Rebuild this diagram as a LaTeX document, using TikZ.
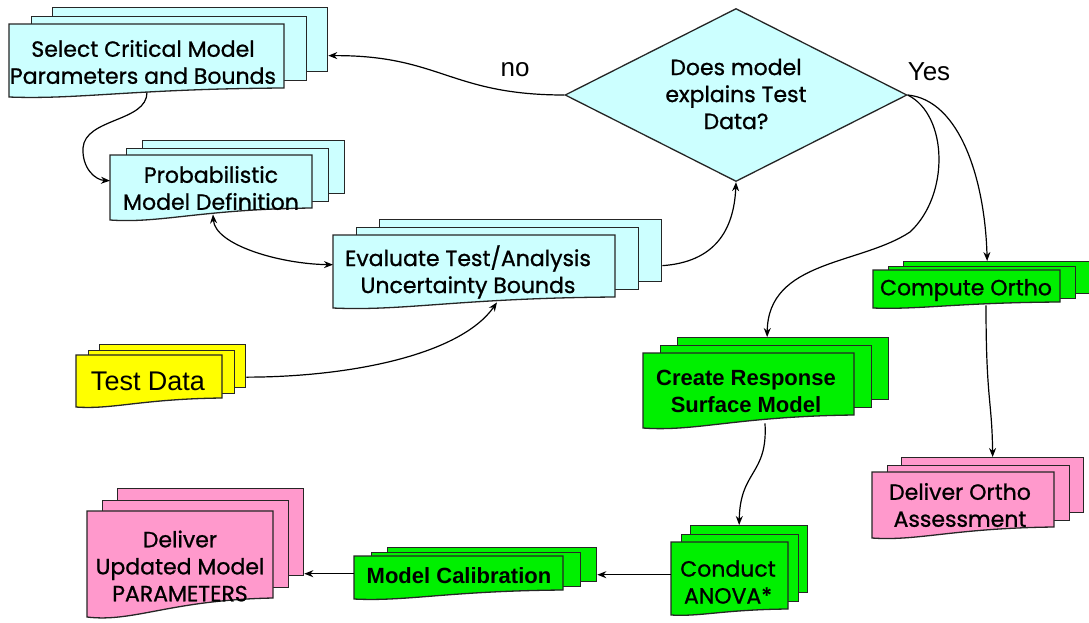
\documentclass[tikz,border=0pt]{standalone}
\usepackage{fontspec}
\setmainfont{Liberation Sans}
\newfontfamily\cfont{Poppins}[FakeBold=0.9]
\usetikzlibrary{shapes.geometric,arrows.meta,calc}
\definecolor{cblue}{HTML}{CCFFFF}
\definecolor{cgreen}{HTML}{00F000}
\definecolor{cyellow}{HTML}{FFFF00}
\definecolor{cpink}{HTML}{FF99CC}
\tikzset{
  sheet/.style={draw=black!85, line width=1.3pt, inner sep=0pt, anchor=north west},
  sheetline/.style={draw=black!85, line width=1.3pt},
  conn/.style={line width=1.2pt, -{Stealth[length=9pt,width=7pt]}},
  ctext/.style={font=\cfont\fontsize{22}{27}\selectfont, align=center, inner sep=0pt},
  atext/.style={font=\fontsize{27}{30}\selectfont, align=center, inner sep=0pt},
  abold/.style={font=\bfseries\fontsize{22}{27}\selectfont, align=center, inner sep=0pt},
  lbl/.style={font=\fontsize{26}{30}\selectfont, inner sep=0pt},
}
% name, colour, L, T, R, B(left bottom), dx, dy, wave amplitude
\newcommand\mdoc[9]{%
  \pgfmathsetmacro\mdW{#5-#3}%
  \pgfmathsetmacro\mdH{#6-#4-#9}%
  \pgfmathsetmacro\mdHf{#6-#4}%
  \node[sheet,fill=#2,minimum width=\mdW pt,minimum height=\mdH pt] (#1-b) at ({#3+2*#7},{#4-2*#8}) {};
  \node[sheet,fill=#2,minimum width=\mdW pt,minimum height=\mdH pt] (#1-m) at ({#3+#7},{#4-#8}) {};
  \draw[sheetline,fill=#2] ({#3},{#4}) -- ({#5},{#4}) -- ({#5},{#6-#9})
     .. controls ({#3+0.45*\mdW},{#6-0.9*#9}) and ({#3+0.25*\mdW},{#6+0.3*#9}) .. ({#3},{#6}) -- cycle;
  \node[inner sep=0pt,minimum width=\mdW pt,minimum height=\mdHf pt,anchor=north west] (#1) at ({#3},{#4}) {};
}
\begin{document}
\begin{tikzpicture}[x=1pt,y=-1pt]
\useasboundingbox[fill=white] (0,0) rectangle (1089,622);

\mdoc{sel}{cblue}{9}{24}{284}{97}{21.5}{8.5}{9}
\mdoc{prob}{cblue}{110}{155}{312}{220}{16}{7.5}{12}
\mdoc{eval}{cblue}{333}{235}{615}{308}{23}{8}{11}
\mdoc{comp}{cgreen}{873}{270}{1060}{308}{15}{4.5}{6}
\mdoc{create}{cgreen}{643}{353}{854}{428}{17}{8}{13}
\mdoc{test}{cyellow}{76}{355}{222}{407}{11.5}{5.5}{9}
\mdoc{delup}{cpink}{87}{511}{273}{617}{15}{11.5}{19}
\mdoc{calib}{cgreen}{354}{556}{563}{599}{16.5}{4.5}{9}
\mdoc{anova}{cgreen}{671}{542}{788}{615}{9.5}{8.5}{6}
\mdoc{delor}{cpink}{872}{472}{1054}{538}{14.5}{7.5}{11}

\node[diamond, draw=black!85, line width=1.3pt, fill=cblue, inner sep=0pt,
      minimum width=342pt, minimum height=173pt] (dec) at (736,95) {};

\node[ctext] (t-sel) at (143,62) {Select Critical Model\\Parameters and Bounds};
\node[ctext] (t-prob) at (211,188) {Probabilistic\\Model Definition};
\node[ctext] (t-eval) at (468,272) {Evaluate Test/Analysis\\Uncertainty Bounds};
\node[ctext] (t-dec) at (736,94) {Does model\\explains Test\\Data?};
\node[ctext] (t-comp) at (966,290) {Compute Ortho};
\node[abold] (t-create) at (746,391) {Create Response\\Surface Model};
\node[atext] (t-test) at (148,381) {Test Data};
\node[ctext] (t-delup) at (180,566) {Deliver\\Updated Model\\PARAMETERS};
\node[abold] (t-calib) at (459,576) {Model Calibration};
\node[ctext] (t-anova) at (728,582) {Conduct\\ANOVA*};
\node[ctext] (t-delor) at (960,505) {Deliver Ortho\\Assessment};
\node[lbl] (l-no) at (515,70) {no};
\node[lbl] (l-yes) at (929,72) {Yes};

% connectors
\draw[conn] (dec.west) .. controls (450,95) and (440,55) .. ([yshift=-16pt]sel-b.east);
\draw[conn] ([xshift=138pt,yshift=5pt]sel.south west) .. controls (147,122) and (85,118) .. (83,148)
   .. controls (82,168) and (95,180) .. ([yshift=7pt]prob.west);
\draw[line width=1.2pt, {Stealth[length=9pt,width=7pt]}-{Stealth[length=9pt,width=7pt]}]
   ([xshift=103pt,yshift=6pt]prob.south west) .. controls (215,245) and (280,264) .. ([yshift=7pt]eval.west);
\draw[conn] ([yshift=-11pt]test-b.east) .. controls (350,377) and (460,355) .. ([xshift=164pt,yshift=6pt]eval.south west);
\draw[conn] ([yshift=-15pt]eval-b.east) .. controls (715,262) and (734,230) .. (dec.south);
\draw[conn] (dec.east) .. controls (948,115) and (950,195) .. (910,232)
   .. controls (860,265) and (768,260) .. ([xshift=-16pt]create-b.north);
\draw[conn] (dec.east) .. controls (960,100) and (985,180) .. ([xshift=-10pt]comp-b.north);
\draw[conn] ([xshift=113pt,yshift=3pt]comp.south west) .. controls (986,400) and (992,400) .. (delor-b.north);
\draw[conn] ([xshift=122pt,yshift=5pt]create.south west) .. controls (768,475) and (740,470) .. ([xshift=-10pt]anova-b.north);
\draw[conn] ([yshift=4pt]anova.west) -- ([yshift=4pt]anova.west -| calib-b.east);
\draw[conn] ([yshift=4pt]calib.west) -- ([yshift=4pt]calib.west -| delup-b.east);
\end{tikzpicture}
\end{document}
